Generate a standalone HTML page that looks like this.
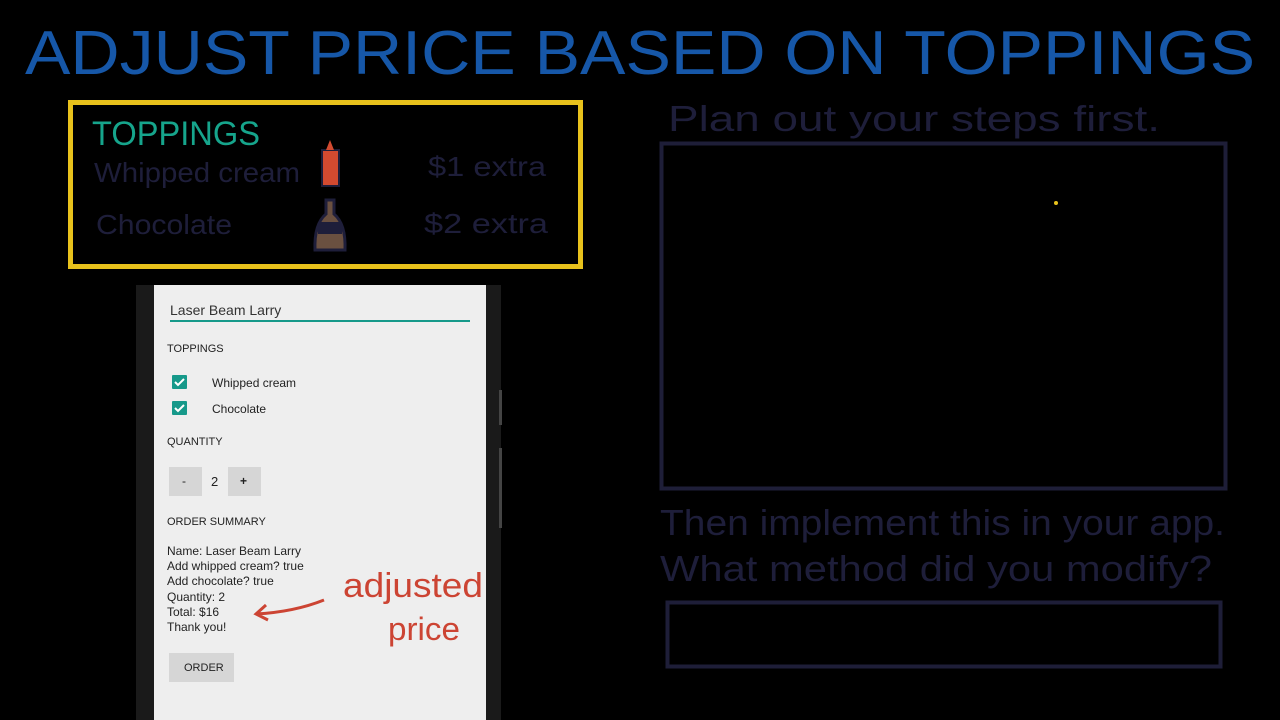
<!DOCTYPE html>
<html><head><meta charset="utf-8"><style>
body{margin:0;background:#000;width:1280px;height:720px;overflow:hidden;position:relative;font-family:"Liberation Sans",sans-serif}
.a{position:absolute}
.s{font-size:12px;color:#222}
</style></head><body>
<svg class="a" style="left:0;top:0" width="1280" height="720">
<text x="25" y="74" textLength="1230" lengthAdjust="spacingAndGlyphs" font-family="Liberation Sans" font-size="62" fill="#1657a8">ADJUST PRICE BASED ON TOPPINGS</text>
<rect x="70.5" y="102.5" width="510" height="164" fill="none" stroke="#e8c21c" stroke-width="5"/>
<text x="92" y="145" textLength="168" lengthAdjust="spacingAndGlyphs" font-size="34" fill="#16a58c">TOPPINGS</text>
<text x="94" y="182" textLength="206" lengthAdjust="spacingAndGlyphs" font-size="28" fill="#1e1e3a">Whipped cream</text>
<text x="96" y="234" textLength="136" lengthAdjust="spacingAndGlyphs" font-size="28" fill="#1e1e3a">Chocolate</text>
<text x="428" y="176" textLength="118" lengthAdjust="spacingAndGlyphs" font-size="28" fill="#1e1e3a">$1 extra</text>
<text x="424" y="233" textLength="124" lengthAdjust="spacingAndGlyphs" font-size="28" fill="#1e1e3a">$2 extra</text>
<g><rect x="322" y="150" width="17" height="36" fill="#d24a30" stroke="#1e1e3a" stroke-width="2"/><path d="M326 150 L330 140 L334 150Z" fill="#d24a30"/></g>
<g><path d="M326 200 h8 v14 q12 10 11 36 h-30 q-1 -26 11 -36z" fill="#6a5040" stroke="#1e1e3a" stroke-width="3"/><rect x="318" y="222" width="24" height="12" fill="#1e1e3a"/></g>
<text x="668" y="131" textLength="492" lengthAdjust="spacingAndGlyphs" font-size="36" fill="#1e1e3a">Plan out your steps first.</text>
<rect x="661.5" y="143.5" width="564" height="345" fill="none" stroke="#1e1e38" stroke-width="4"/>
<circle cx="1056" cy="203" r="2" fill="#e8c21c"/>
<text x="660" y="535" textLength="565" lengthAdjust="spacingAndGlyphs" font-size="36" fill="#1e1e3a">Then implement this in your app.</text>
<text x="660" y="581" textLength="552" lengthAdjust="spacingAndGlyphs" font-size="36" fill="#1e1e3a">What method did you modify?</text>
<rect x="667.5" y="602.5" width="553" height="64" fill="none" stroke="#1e1e38" stroke-width="4"/>
<rect x="136" y="285" width="365" height="435" fill="#1a1a1a"/>
<rect x="499" y="390" width="3" height="35" fill="#444"/><rect x="499" y="448" width="3" height="80" fill="#444"/>
<rect x="154" y="285" width="332" height="435" fill="#eeeeee"/>
<line x1="170" y1="321" x2="470" y2="321" stroke="#16998a" stroke-width="2"/>
<rect x="172" y="375" width="15" height="14" fill="#16998a" rx="1"/><path d="M175 382 l3 3 l6 -6" stroke="#fff" stroke-width="2" fill="none"/>
<rect x="172" y="401" width="15" height="14" fill="#16998a" rx="1"/><path d="M175 408 l3 3 l6 -6" stroke="#fff" stroke-width="2" fill="none"/>
<rect x="169" y="467" width="33" height="29" fill="#d6d6d6"/>
<rect x="228" y="467" width="33" height="29" fill="#d6d6d6"/>
<rect x="169" y="653" width="65" height="29" fill="#d6d6d6"/>
<path d="M324 600 q-30 12 -68 14 M266 605 l-10 9 l12 6" stroke="#cc4433" stroke-width="3" fill="none"/>
<text x="343" y="597" textLength="140" lengthAdjust="spacingAndGlyphs" font-size="34" fill="#cc4433">adjusted</text>
<text x="388" y="640" textLength="72" lengthAdjust="spacingAndGlyphs" font-size="32" fill="#cc4433">price</text>
</svg>
<div class="a" style="left:170px;top:302px;font-size:14px;color:#333">Laser Beam Larry</div>
<div class="a s" style="left:167px;top:343px;font-size:11px">TOPPINGS</div>
<div class="a s" style="left:212px;top:376px">Whipped cream</div>
<div class="a s" style="left:212px;top:402px">Chocolate</div>
<div class="a s" style="left:167px;top:436px;font-size:11px">QUANTITY</div>
<div class="a s" style="left:182px;top:474px">-</div>
<div class="a s" style="left:211px;top:474px;font-size:13px">2</div>
<div class="a s" style="left:240px;top:474px;font-weight:bold">+</div>
<div class="a s" style="left:167px;top:516px;font-size:11px">ORDER SUMMARY</div>
<div class="a s" style="left:167px;top:544px;line-height:15.2px">Name: Laser Beam Larry<br>Add whipped cream? true<br>Add chocolate? true<br>Quantity: 2<br>Total: $16<br>Thank you!</div>
<div class="a s" style="left:184px;top:662px;font-size:11px">ORDER</div>
</body></html>
